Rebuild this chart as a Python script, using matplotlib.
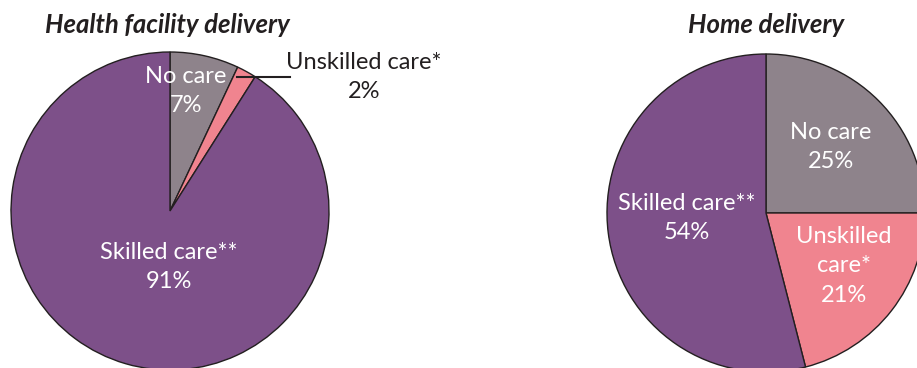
import matplotlib
matplotlib.use("Agg")
import matplotlib.pyplot as plt

categories = ["No care", "Unskilled care*", "Skilled care**"]
facility_values = [7, 2, 91]
home_values = [25, 21, 54]
titles = ["Health facility delivery", "Home delivery"]
colors = ["#8E838B", "#F0848F", "#7D5089"]

W, H = 917, 368
fig = plt.figure(figsize=(W / 100, H / 100), dpi=100)
ax = fig.add_axes([0, 0, 1, 1])

font = ["Lato", "DejaVu Sans"]
R = 159
c1 = (170, H - 211)
c2 = (766, H - 213)
wp = dict(edgecolor="#231F20", linewidth=1.0)
ax.pie(facility_values, colors=colors, startangle=90, counterclock=False,
       center=c1, radius=R, wedgeprops=wp, frame=True)
ax.pie(home_values, colors=colors, startangle=90, counterclock=False,
       center=c2, radius=R, wedgeprops=wp, frame=True)
ax.set_xlim(0, W)
ax.set_ylim(0, H)
ax.set_aspect("equal")
ax.axis("off")

fs = 17
tk = dict(ha="center", va="center", fontsize=fs, family=font, linespacing=1.5)
# titles
ax.text(167, H - 25, titles[0], fontsize=18.5, fontweight="bold", style="italic",
        ha="center", va="center", family=font, color="#231F20")
ax.text(766, H - 25, titles[1], fontsize=18.5, fontweight="bold", style="italic",
        ha="center", va="center", family=font, color="#231F20")

# left labels
ax.text(186, H - 91, f"{categories[0]}\n{facility_values[0]}%", color="white", **tk)
ax.text(364, H - 77, f"{categories[1]}\n{facility_values[1]}%", color="#231F20", **tk)
ax.plot([237, 290], [H - 77, H - 77], color="#231F20", lw=1.5)
ax.text(169, H - 267, f"{categories[2]}\n{facility_values[2]}%", color="white", **tk)

# right labels
ax.text(831, H - 147, f"{categories[0]}\n{home_values[0]}%", color="white", **tk)
ax.text(844, H - 266, f"Unskilled\ncare*\n{home_values[1]}%", color="white", **tk)
ax.text(687, H - 218, f"{categories[2]}\n{home_values[2]}%", color="white", **tk)

fig.savefig("out.png", dpi=100)
